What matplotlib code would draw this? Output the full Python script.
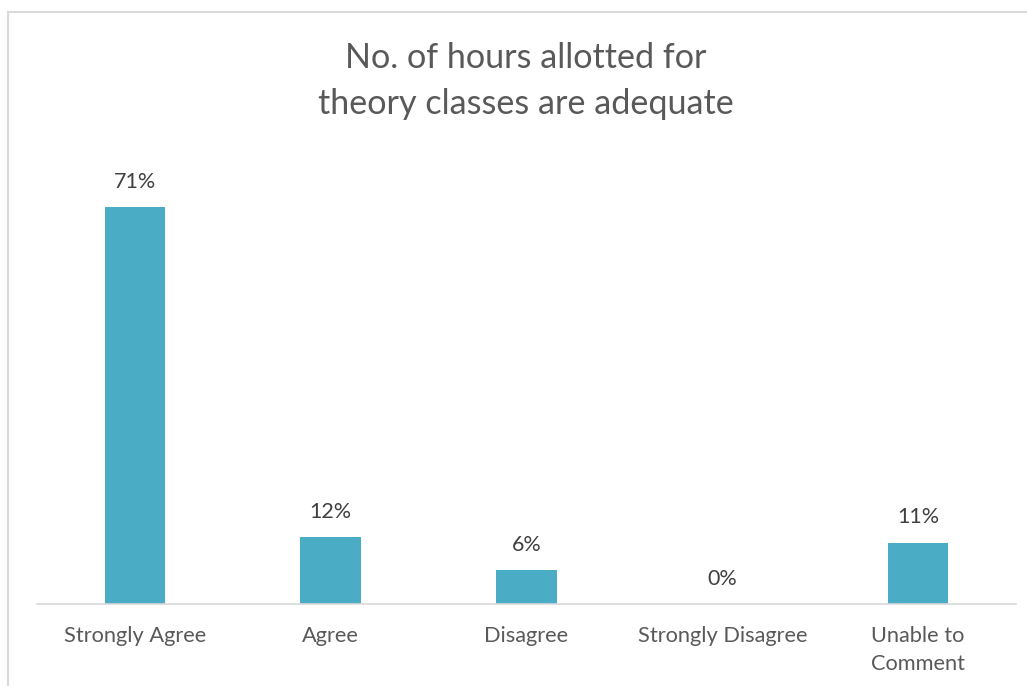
import matplotlib.pyplot as plt
import numpy as np
from matplotlib.patches import Rectangle

categories = ['Strongly Agree', 'Agree', 'Disagree', 'Strongly Disagree', 'Unable to\nComment']
values = [71, 12, 6, 0, 11]
value_labels = ['71%', '12%', '6%', '0%', '11%']

plt.rcParams['font.family'] = ['Lato', 'DejaVu Sans']
text_color = '#595959'

W, H = 1027, 686
fig = plt.figure(figsize=(W / 100, H / 100), dpi=100)
ax = fig.add_axes([37 / W, 82 / H, 979 / W, 447 / H])

x = np.arange(len(categories))
ax.bar(x, values, width=0.31, color='#4BACC6')
for xi, v, lab in zip(x, values, value_labels):
    ax.annotate(lab, (xi, v), xytext=(0, 11), textcoords='offset points',
                ha='center', va='bottom', fontsize=15.5, color='#404040')

ax.set_xlim(-0.5, len(categories) - 0.5)
ax.set_ylim(0, 80)
ax.set_xticks(x)
ax.set_xticklabels(categories, fontsize=15.7, color=text_color, linespacing=1.5)
ax.tick_params(axis='x', length=0, pad=16)
ax.set_yticks([])
for s in ['top', 'right', 'left']:
    ax.spines[s].set_visible(False)
ax.spines['bottom'].set_color('#d9d9d9')
ax.spines['bottom'].set_linewidth(1.2)

fig.text(526 / W, 1 - 81 / H, 'No. of hours allotted for\ntheory classes are adequate',
         ha='center', va='center', fontsize=24.6, color=text_color, linespacing=1.55)

# outer chart border
fig.patches.append(Rectangle((8 / W, -0.2), 1.2, 1.2 - 12 / H,
                             transform=fig.transFigure, fill=False,
                             edgecolor='#d9d9d9', linewidth=1.5))

plt.savefig('out.png', dpi=100)
